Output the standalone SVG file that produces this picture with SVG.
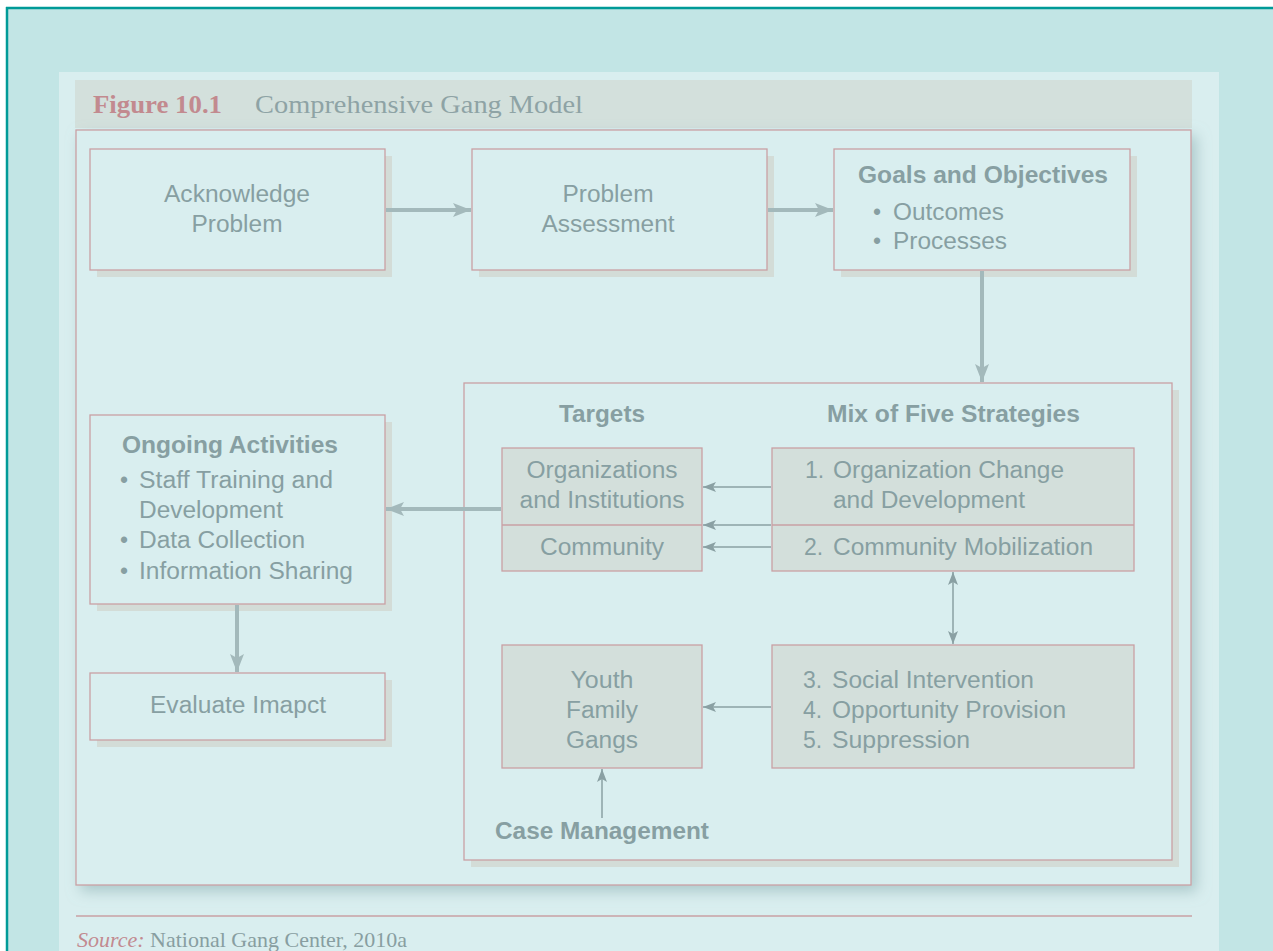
<svg xmlns="http://www.w3.org/2000/svg" width="1273" height="951" viewBox="0 0 1273 951">
  <style>
    .box { fill: #d9eeef; stroke: #c9a0a4; stroke-width: 1.3; }
    .gbox { fill: #d3dfdb; stroke: #c9a0a4; stroke-width: 1.3; }
    .shadow { fill: #d3dcd7; }
    .t { font-family: "Liberation Sans", Arial, sans-serif; font-size: 23px; fill: #879fa2; }
    .b { font-weight: bold; }
    .c { text-anchor: middle; }
    .thick { stroke: #a3b9bb; stroke-width: 4; fill: none; }
    .thin { stroke: #8aa0a3; stroke-width: 1.5; fill: none; }
    .serif { font-family: "Liberation Serif", "Times New Roman", serif; }
  </style>
  <defs>
    <marker id="headThick" markerUnits="userSpaceOnUse" markerWidth="20" markerHeight="16" refX="18" refY="8" orient="auto">
      <path d="M0,1 L18,8 L0,15 L4,8 Z" fill="#a3b9bb"/>
    </marker>
    <marker id="headThin" markerUnits="userSpaceOnUse" markerWidth="14" markerHeight="12" refX="13" refY="6" orient="auto-start-reverse">
      <path d="M0,1 L13,6 L0,11 L3,6 Z" fill="#8aa0a3"/>
    </marker>
    <filter id="frameShadow" x="-5%" y="-5%" width="112%" height="112%">
      <feDropShadow dx="5" dy="6" stdDeviation="7" flood-color="#8fb0b3" flood-opacity="0.6"/>
    </filter>
  </defs>

  <!-- page background and border -->
  <rect x="0" y="0" width="1273" height="951" fill="#ffffff"/>
  <rect x="7" y="8" width="1266" height="943" fill="#c2e5e5"/>
  <line x1="6" y1="8" x2="1273" y2="8" stroke="#009a97" stroke-width="2.5"/>
  <line x1="7" y1="7" x2="7" y2="951" stroke="#009a97" stroke-width="2.5"/>

  <!-- figure panel -->
  <rect x="59" y="72" width="1160" height="879" fill="#d9eeef"/>
  <rect x="75" y="80" width="1117" height="48" fill="#d3e0dc"/>
  <text x="93" y="113" class="serif" font-size="26" font-weight="bold" fill="#c28a8f" textLength="129" lengthAdjust="spacingAndGlyphs">Figure 10.1</text>
  <text x="255" y="113" class="serif" font-size="26" fill="#8ea3a5" textLength="328" lengthAdjust="spacingAndGlyphs">Comprehensive Gang Model</text>

  <!-- diagram frame -->
  <rect x="76" y="130" width="1115" height="755" fill="#d9eeef" stroke="#c9a0a4" stroke-width="1.3" filter="url(#frameShadow)"/>

  <!-- source line -->
  <line x1="76" y1="916" x2="1192" y2="916" stroke="#c9a0a4" stroke-width="1.5"/>
  <text x="77" y="947" class="serif" font-size="22" fill="#889ea1"><tspan font-style="italic" fill="#c28a8f">Source:</tspan> National Gang Center, 2010a</text>

  <!-- nodes -->
  <g id="acknowledge">
    <rect class="shadow" x="97" y="156" width="295" height="121"/>
    <rect class="box" x="90" y="149" width="295" height="121"/>
    <text class="t c" x="237" y="202" textLength="146" lengthAdjust="spacingAndGlyphs">Acknowledge</text>
    <text class="t c" x="237" y="232" textLength="91" lengthAdjust="spacingAndGlyphs">Problem</text>
  </g>

  <g id="assessment">
    <rect class="shadow" x="479" y="156" width="295" height="121"/>
    <rect class="box" x="472" y="149" width="295" height="121"/>
    <text class="t c" x="608" y="202" textLength="91" lengthAdjust="spacingAndGlyphs">Problem</text>
    <text class="t c" x="608" y="232" textLength="133" lengthAdjust="spacingAndGlyphs">Assessment</text>
  </g>

  <g id="goals">
    <rect class="shadow" x="841" y="156" width="296" height="121"/>
    <rect class="box" x="834" y="149" width="296" height="121"/>
    <text class="t b" x="858" y="183" textLength="250" lengthAdjust="spacingAndGlyphs">Goals and Objectives</text>
    <text class="t" x="873" y="220">•</text>
    <text class="t" x="893" y="220" textLength="111" lengthAdjust="spacingAndGlyphs">Outcomes</text>
    <text class="t" x="873" y="249">•</text>
    <text class="t" x="893" y="249" textLength="114" lengthAdjust="spacingAndGlyphs">Processes</text>
  </g>

  <g id="strategies-panel">
    <rect class="shadow" x="471" y="390" width="708" height="477"/>
    <rect class="box" x="464" y="383" width="708" height="477"/>
    <text class="t b c" x="602" y="422" textLength="86" lengthAdjust="spacingAndGlyphs">Targets</text>
    <text class="t b" x="827" y="422" textLength="253" lengthAdjust="spacingAndGlyphs">Mix of Five Strategies</text>
  </g>

  <g id="targets">
    <rect class="gbox" x="502" y="448" width="200" height="123"/>
    <line x1="502" y1="525" x2="702" y2="525" stroke="#c9a0a4" stroke-width="1.3"/>
    <text class="t c" x="602" y="478" textLength="151" lengthAdjust="spacingAndGlyphs">Organizations</text>
    <text class="t c" x="602" y="508" textLength="165" lengthAdjust="spacingAndGlyphs">and Institutions</text>
    <text class="t c" x="602" y="555" textLength="124" lengthAdjust="spacingAndGlyphs">Community</text>
  </g>

  <g id="strategies-1-2">
    <rect class="gbox" x="772" y="448" width="362" height="123"/>
    <line x1="772" y1="525" x2="1134" y2="525" stroke="#c9a0a4" stroke-width="1.3"/>
    <text class="t" x="805" y="478">1.</text>
    <text class="t" x="833" y="478" textLength="231" lengthAdjust="spacingAndGlyphs">Organization Change</text>
    <text class="t" x="833" y="508" textLength="192" lengthAdjust="spacingAndGlyphs">and Development</text>
    <text class="t" x="804" y="555">2.</text>
    <text class="t" x="833" y="555" textLength="260" lengthAdjust="spacingAndGlyphs">Community Mobilization</text>
  </g>

  <g id="strategies-3-5">
    <rect class="gbox" x="772" y="645" width="362" height="123"/>
    <text class="t" x="803" y="688">3.</text>
    <text class="t" x="832" y="688" textLength="202" lengthAdjust="spacingAndGlyphs">Social Intervention</text>
    <text class="t" x="803" y="718">4.</text>
    <text class="t" x="832" y="718" textLength="234" lengthAdjust="spacingAndGlyphs">Opportunity Provision</text>
    <text class="t" x="803" y="748">5.</text>
    <text class="t" x="832" y="748" textLength="138" lengthAdjust="spacingAndGlyphs">Suppression</text>
  </g>

  <g id="youth">
    <rect class="gbox" x="502" y="645" width="200" height="123"/>
    <text class="t c" x="602" y="688" textLength="63" lengthAdjust="spacingAndGlyphs">Youth</text>
    <text class="t c" x="602" y="718" textLength="72" lengthAdjust="spacingAndGlyphs">Family</text>
    <text class="t c" x="602" y="748" textLength="72" lengthAdjust="spacingAndGlyphs">Gangs</text>
  </g>

  <g id="case-management">
    <text class="t b" x="495" y="839" textLength="214" lengthAdjust="spacingAndGlyphs">Case Management</text>
  </g>

  <g id="ongoing">
    <rect class="shadow" x="97" y="422" width="295" height="189"/>
    <rect class="box" x="90" y="415" width="295" height="189"/>
    <text class="t b" x="122" y="453" textLength="216" lengthAdjust="spacingAndGlyphs">Ongoing Activities</text>
    <text class="t" x="120" y="488">•</text>
    <text class="t" x="139" y="488" textLength="194" lengthAdjust="spacingAndGlyphs">Staff Training and</text>
    <text class="t" x="139" y="518" textLength="144" lengthAdjust="spacingAndGlyphs">Development</text>
    <text class="t" x="120" y="548">•</text>
    <text class="t" x="139" y="548" textLength="166" lengthAdjust="spacingAndGlyphs">Data Collection</text>
    <text class="t" x="120" y="579">•</text>
    <text class="t" x="139" y="579" textLength="214" lengthAdjust="spacingAndGlyphs">Information Sharing</text>
  </g>

  <g id="evaluate">
    <rect class="shadow" x="97" y="680" width="295" height="67"/>
    <rect class="box" x="90" y="673" width="295" height="67"/>
    <text class="t c" x="238" y="713" textLength="176" lengthAdjust="spacingAndGlyphs">Evaluate Imapct</text>
  </g>

  <!-- connectors -->
  <g id="connectors">
    <line class="thick" x1="386" y1="210" x2="471" y2="210" marker-end="url(#headThick)"/>
    <line class="thick" x1="768" y1="210" x2="833" y2="210" marker-end="url(#headThick)"/>
    <line class="thick" x1="982" y1="271" x2="982" y2="382" marker-end="url(#headThick)"/>
    <line class="thick" x1="501" y1="509" x2="386" y2="509" marker-end="url(#headThick)"/>
    <line class="thick" x1="237" y1="605" x2="237" y2="672" marker-end="url(#headThick)"/>
    <line class="thin" x1="771" y1="487" x2="703" y2="487" marker-end="url(#headThin)"/>
    <line class="thin" x1="771" y1="525" x2="703" y2="525" marker-end="url(#headThin)"/>
    <line class="thin" x1="771" y1="547" x2="703" y2="547" marker-end="url(#headThin)"/>
    <line class="thin" x1="771" y1="707" x2="703" y2="707" marker-end="url(#headThin)"/>
    <line class="thin" x1="953" y1="572" x2="953" y2="644" marker-start="url(#headThin)" marker-end="url(#headThin)"/>
    <line class="thin" x1="602" y1="818" x2="602" y2="769" marker-end="url(#headThin)"/>
  </g>
</svg>
